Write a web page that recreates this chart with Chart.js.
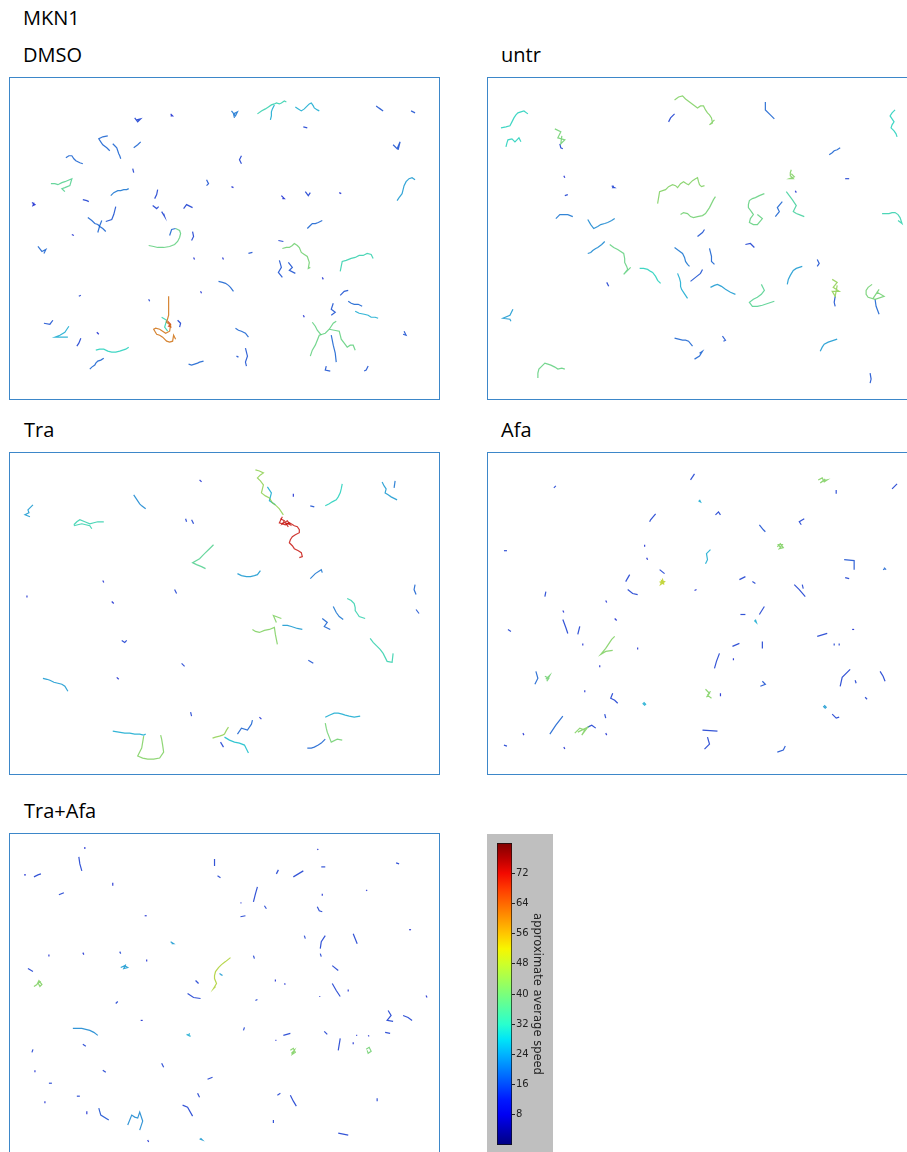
<!DOCTYPE html>
<html>
<head>
<meta charset="utf-8">
<script src="https://cdn.jsdelivr.net/npm/chart.js@4.4.0/dist/chart.umd.min.js"></script>
<style>
  html, body { margin: 0; padding: 0; background: #fff; }
  body { width: 907px; height: 1152px; overflow: hidden; position: relative; font-family: "Open Sans", sans-serif; }
  .label { position: absolute; font-size: 20px; line-height: 20px; color: #000; white-space: nowrap; }
  .panel { position: absolute; width: 429px; height: 321px; border: 1px solid #3d87c9; background: #fff; }
  .panel canvas, #cbar canvas { display: block; }
  #cbar { position: absolute; left: 487px; top: 834px; width: 66px; height: 318px; background: #bfbfbf; }
</style>
</head>
<body>
<div class="label" style="left:23px;top:8px">MKN1</div>
<div class="label" style="left:23px;top:45px">DMSO</div>
<div class="label" style="left:501px;top:45px">untr</div>
<div class="label" style="left:24px;top:420px">Tra</div>
<div class="label" style="left:501px;top:420px">Afa</div>
<div class="label" style="left:24px;top:801px">Tra+Afa</div>

<div class="panel" style="left:9px;top:77px"><canvas id="dmso" width="429" height="321"></canvas></div>
<div class="panel" style="left:487px;top:77px"><canvas id="untr" width="429" height="321"></canvas></div>
<div class="panel" style="left:9px;top:452px"><canvas id="tra" width="429" height="321"></canvas></div>
<div class="panel" style="left:487px;top:452px"><canvas id="afa" width="429" height="321"></canvas></div>
<div class="panel" style="left:9px;top:833px"><canvas id="traafa" width="429" height="321"></canvas></div>
<div id="cbar"><canvas id="cbarChart" width="66" height="318"></canvas></div>

<script>
// each track: [average speed, [[x, y], ...]] in field pixels (y grows downward)
const dmsoTracks = [
  [14, [[125,40],[128,44],[131,41],[127,42]]],
  [12, [[161,36],[163,38],[161,38]]],
  [20, [[222,33],[226,38],[228,34],[224,36],[225,40]]],
  [32, [[248,36],[252,33],[256,31],[259,29],[262,27],[265,26],[267,25],[270,26],[272,25],[275,23],[277,24]]],
  [26, [[265,27],[263,31],[262,34],[262,38],[261,42]]],
  [26, [[286,29],[289,31],[292,33],[295,31],[298,28],[300,26],[302,25],[304,28],[305,30],[308,32],[310,33]]],
  [16, [[367,28],[371,31],[374,33],[370,30]]],
  [16, [[402,33],[406,35]]],
  [14, [[294,49],[298,50]]],
  [16, [[384,67],[388,71],[391,64],[389,72]]],
  [18, [[98,58],[93,59],[89,61],[91,64],[93,67],[97,70],[100,73]]],
  [18, [[103,66],[105,68],[107,70],[108,73],[109,76],[110,78],[111,81]]],
  [18, [[124,70],[128,67],[131,64]]],
  [18, [[56,80],[59,78],[62,78],[64,81],[66,83],[70,85],[73,86]]],
  [14, [[123,91],[124,95]]],
  [14, [[232,78],[230,82],[232,86]]],
  [24, [[406,102],[403,100],[400,101],[397,104],[395,108],[394,112],[393,116],[390,120],[388,123]]],
  [36, [[41,106],[45,106],[48,107],[52,105],[55,104],[62,101],[60,108],[55,110],[52,111],[55,114]]],
  [16, [[197,102],[199,106],[197,108]]],
  [12, [[222,109],[224,110]]],
  [20, [[101,118],[104,115],[108,113],[111,113],[114,112],[117,112],[119,111]]],
  [14, [[148,112],[147,117],[145,121]]],
  [12, [[22,125],[25,127],[23,128],[24,125]]],
  [14, [[73,122],[77,123],[79,124]]],
  [12, [[272,118],[275,121],[273,121]]],
  [14, [[296,114],[299,118],[301,115]]],
  [12, [[330,115],[332,116]]],
  [14, [[143,128],[147,131],[149,129]]],
  [14, [[152,134],[155,139],[154,136]]],
  [14, [[174,131],[177,127],[183,130]]],
  [16, [[106,129],[104,137],[102,142],[96,144]]],
  [18, [[78,140],[82,143],[85,146],[88,147],[90,149],[93,151],[96,154]]],
  [18, [[88,155],[90,148],[92,143]]],
  [12, [[62,157],[64,158]]],
  [18, [[28,169],[32,174],[36,172],[34,176]]],
  [38, [[139,168],[144,169],[148,170],[154,170],[160,169],[165,167],[168,164],[170,160],[171,156],[170,153],[166,151]]],
  [18, [[160,158],[162,152],[166,151]]],
  [14, [[183,154],[184,159],[182,163]]],
  [12, [[184,180],[185,182]]],
  [12, [[213,180],[214,182]]],
  [16, [[239,176],[243,175]]],
  [14, [[269,163],[274,164]]],
  [40, [[273,171],[277,170],[280,170],[283,168],[285,166],[288,168],[290,170],[292,175],[295,177],[298,179],[300,185],[299,191],[301,190]]],
  [16, [[270,183],[272,190],[269,195],[273,200]]],
  [16, [[279,185],[283,190],[280,193],[286,196]]],
  [18, [[298,151],[301,148],[303,146],[306,146],[309,145],[313,143]]],
  [32, [[331,194],[332,189],[333,184],[337,183],[342,181],[346,180],[350,178],[354,178],[358,176],[362,177],[364,181]]],
  [12, [[313,200],[314,202]]],
  [18, [[209,204],[213,205],[216,206],[219,208],[221,210],[224,214]]],
  [12, [[191,214],[192,216]]],
  [14, [[69,219],[71,218]]],
  [14, [[139,222],[140,224]]],
  [16, [[331,218],[335,214],[339,213]]],
  [16, [[324,226],[322,232],[326,235],[322,238]]],
  [18, [[339,224],[342,226],[345,227],[349,227],[353,229]]],
  [26, [[346,234],[350,236],[355,237],[359,238],[362,240],[366,240],[369,241]]],
  [12, [[294,238],[295,240]]],
  [16, [[34,246],[40,247],[43,243]]],
  [26, [[59,249],[57,252],[55,255],[50,258],[45,260],[50,260],[58,260]]],
  [12, [[87,255],[89,257],[88,256]]],
  [14, [[71,261],[69,266],[67,269]]],
  [62, [[159,219],[159,228],[159,238],[157,245],[161,248],[160,254],[156,256],[153,254],[150,252],[146,251],[144,252],[147,257],[150,258],[153,260],[157,264],[160,265],[163,264],[164,258],[166,262]]],
  [32, [[152,240],[157,243],[155,250],[158,254]]],
  [68, [[158,244],[161,247],[159,249],[162,250]]],
  [14, [[168,243],[171,246],[170,250]]],
  [18, [[226,251],[229,253],[232,254],[236,256],[239,260]]],
  [30, [[86,273],[90,272],[94,272],[98,274],[102,275],[106,275],[110,274],[113,273],[116,272],[119,270]]],
  [18, [[94,281],[91,283],[88,284],[86,286],[85,288],[82,290],[80,292]]],
  [18, [[179,287],[182,288],[185,287],[188,286],[190,285],[194,284]]],
  [16, [[236,271],[238,279],[236,285],[237,289]]],
  [16, [[227,279],[229,280]]],
  [38, [[301,279],[303,273],[306,268],[308,263],[310,258],[313,257],[316,256],[320,252],[322,249],[324,246],[327,244]]],
  [38, [[303,245],[306,249],[308,253],[312,258]]],
  [38, [[320,252],[325,253],[330,254],[331,258],[332,262],[335,266],[338,270],[341,268],[344,268],[346,273]]],
  [18, [[322,258],[323,263],[324,268],[325,272],[326,276],[327,285]]],
  [16, [[317,289],[316,293],[321,294]]],
  [16, [[359,289],[357,293],[355,294]]],
  [16, [[395,254],[397,258],[394,257]]]
];

const untrTracks = [
  [30, [[13,50],[18,49],[22,48],[24,44],[26,40],[28,37],[30,35],[33,34],[36,33],[40,36]]],
  [30, [[18,69],[19,65],[20,62],[24,61],[27,64],[29,62],[31,60],[33,64]]],
  [40, [[67,51],[73,54],[70,60],[77,62],[73,66],[74,58]]],
  [14, [[72,66],[73,70],[75,71]]],
  [14, [[187,36],[183,40],[181,44]]],
  [42, [[187,22],[191,19],[195,18],[198,21],[202,24],[206,27],[210,30],[213,28],[216,28],[218,32],[220,35],[222,37],[224,40],[225,45],[222,47],[227,42]]],
  [18, [[278,24],[278,32],[283,37],[287,41]]],
  [30, [[408,32],[405,35],[403,38],[405,41],[407,44],[405,47],[404,50],[407,53],[409,56],[410,59]]],
  [18, [[342,77],[345,75],[347,73],[350,72],[353,70]]],
  [12, [[76,98],[77,100]]],
  [14, [[124,108],[127,110],[125,110],[126,108]]],
  [14, [[77,118],[80,117]]],
  [42, [[170,126],[171,120],[172,114],[175,113],[178,112],[181,109],[185,107],[188,108],[190,110],[193,106],[196,104],[199,106],[201,107],[203,105],[205,103],[208,101],[210,100],[211,104],[212,107],[214,109],[217,108]]],
  [42, [[304,92],[303,95],[303,98],[306,101],[302,101],[307,99],[304,96]]],
  [14, [[358,101],[362,101]]],
  [12, [[308,113],[309,115]]],
  [40, [[193,137],[196,135],[200,136],[203,139],[206,140],[210,139],[215,138],[218,136],[220,133],[222,130],[224,126],[226,122],[228,119]]],
  [38, [[277,116],[272,118],[268,120],[265,121],[262,123],[261,127],[261,130],[264,134],[266,137],[263,141],[262,145],[266,147],[270,147],[275,141],[270,137]]],
  [18, [[295,124],[290,130],[292,134],[288,139]]],
  [34, [[299,114],[302,118],[305,122],[307,125],[309,128],[306,134],[309,136],[312,137],[317,139]]],
  [32, [[395,136],[399,136],[402,136],[405,135],[408,135],[411,137],[413,140],[415,146],[411,143]]],
  [20, [[68,141],[70,139],[72,137],[76,137],[80,137],[85,139]]],
  [22, [[100,142],[103,147],[106,151],[110,149],[113,147],[117,146],[120,145],[124,143],[127,141]]],
  [16, [[210,159],[215,155],[217,152]]],
  [14, [[258,167],[263,166],[267,170]]],
  [22, [[100,176],[103,175],[105,173],[108,171],[110,170],[114,167],[117,164]]],
  [38, [[122,167],[126,170],[130,172],[133,174],[136,176],[137,181],[137,185],[139,189],[140,192],[136,197],[143,190]]],
  [20, [[187,170],[191,173],[195,176],[197,180],[198,184],[200,187],[202,189]]],
  [18, [[222,171],[224,179],[224,184],[227,187]]],
  [30, [[152,191],[156,191],[160,192],[163,194],[165,195],[168,199],[170,203],[173,206]]],
  [16, [[203,204],[208,200],[213,196],[215,192]]],
  [26, [[190,196],[192,201],[193,205],[193,209],[194,212],[196,215],[198,218],[200,221]]],
  [14, [[119,205],[121,209]]],
  [24, [[223,210],[227,208],[230,207],[234,209],[238,212],[243,215],[248,217]]],
  [36, [[274,207],[277,213],[274,217],[270,220],[266,222],[262,225],[265,229],[270,229],[275,228],[281,226],[287,224]]],
  [24, [[300,207],[301,202],[303,198],[306,193],[309,191],[312,190],[315,189]]],
  [16, [[330,182],[332,186],[330,189]]],
  [44, [[345,202],[350,205],[346,210],[352,214],[345,214],[348,219],[350,208]]],
  [16, [[348,219],[347,225],[348,229]]],
  [40, [[385,207],[381,210],[379,213],[379,217],[381,220],[388,222],[397,219],[390,215],[386,221],[392,212]]],
  [18, [[388,222],[389,229],[392,237]]],
  [24, [[25,232],[22,238],[15,241],[22,242],[23,244]]],
  [18, [[187,261],[191,262],[195,263],[198,263],[201,264],[205,269]]],
  [18, [[207,282],[212,279],[215,274],[212,276]]],
  [16, [[235,259],[238,263],[236,264]]],
  [24, [[333,274],[335,270],[337,267],[341,265],[344,264],[350,262]]],
  [38, [[50,301],[50,296],[51,292],[54,289],[57,286],[60,287],[63,288],[67,290],[70,292],[74,291],[77,292]]],
  [16, [[383,296],[384,302],[383,306]]]
];

const traTracks = [
  [24, [[23,52],[18,57],[19,60],[15,62],[20,64]]],
  [32, [[64,72],[67,69],[70,67],[75,69],[80,71],[84,70],[88,69],[94,69]]],
  [32, [[64,73],[68,72],[72,71],[76,72],[80,73],[82,76]]],
  [22, [[124,42],[126,45],[128,48],[130,51],[132,53],[136,56]]],
  [12, [[190,27],[192,29]]],
  [14, [[176,66],[177,69]]],
  [14, [[182,67],[184,71]]],
  [44, [[246,17],[250,18],[254,20],[251,22],[248,25],[251,28],[254,32],[253,36],[252,40],[256,43],[260,45],[263,50],[267,53],[270,56],[274,62]]],
  [26, [[258,34],[262,40],[260,48],[266,52]]],
  [72, [[273,64],[270,70],[276,72],[280,70],[285,73],[288,74],[290,77],[290,80],[286,82],[283,84],[281,87],[280,90],[283,93],[285,96],[289,98],[292,100],[293,104],[290,105]]],
  [72, [[271,66],[275,68],[273,71],[278,68],[281,72],[276,70],[279,74]]],
  [12, [[284,41],[284,44]]],
  [16, [[301,53],[305,54]]],
  [30, [[333,31],[332,36],[331,40],[329,44],[327,47],[323,49],[320,51],[316,53]]],
  [24, [[373,29],[375,33],[377,36],[376,40],[379,42],[382,44],[388,47]]],
  [20, [[386,28],[385,35]]],
  [36, [[204,92],[200,96],[196,100],[193,103],[190,106],[183,110],[187,112],[192,114],[196,116]]],
  [24, [[228,121],[232,123],[237,124],[241,124],[245,123],[248,122],[251,118]]],
  [20, [[301,126],[306,121],[312,117],[313,120]]],
  [18, [[406,132],[405,137],[407,142]]],
  [16, [[407,157],[410,161]]],
  [12, [[93,128],[94,130]]],
  [12, [[17,143],[17,145]]],
  [12, [[102,149],[104,151]]],
  [14, [[165,137],[167,141]]],
  [42, [[243,177],[246,179],[250,180],[255,178],[260,177],[265,175],[266,182],[268,192]]],
  [42, [[267,170],[264,163],[272,166]]],
  [24, [[273,173],[278,173],[282,174],[285,175],[288,176],[293,177]]],
  [18, [[313,166],[318,170],[315,174],[321,177]]],
  [20, [[324,154],[327,160],[330,164],[334,167]]],
  [32, [[338,146],[342,148],[345,151],[346,155],[346,158],[348,161],[350,164],[356,166]]],
  [32, [[361,186],[364,190],[368,194],[371,197],[374,201],[376,205],[378,209],[383,210],[384,201]]],
  [14, [[112,188],[115,190],[117,188]]],
  [14, [[172,211],[175,214]]],
  [16, [[299,208],[304,211]]],
  [24, [[33,226],[37,227],[40,228],[44,230],[48,231],[52,232],[55,234],[58,239]]],
  [12, [[107,225],[109,227]]],
  [14, [[181,260],[182,264]]],
  [26, [[103,279],[109,280],[115,281],[120,281],[125,282],[130,282],[134,283],[136,282]]],
  [42, [[134,284],[133,290],[132,296],[130,300],[128,304],[133,306],[138,307],[144,307],[150,306],[154,300],[153,293],[152,287],[151,283]]],
  [44, [[203,286],[206,285],[210,284],[213,283],[215,282],[217,278],[219,275]]],
  [28, [[215,285],[220,288],[225,290],[230,291],[235,293],[237,297],[239,301]]],
  [14, [[211,290],[214,295]]],
  [18, [[228,282],[232,276],[238,278],[242,272],[243,268]]],
  [12, [[250,265],[252,267]]],
  [26, [[316,265],[320,263],[325,261],[329,261],[333,262],[336,263],[340,264],[345,265],[351,264]]],
  [40, [[316,271],[317,276],[318,280],[320,285],[322,290],[328,287],[333,288]]],
  [18, [[298,296],[302,296],[305,295],[309,293],[312,291],[316,287]]]
];

const afaTracks = [
  [14, [[207,21],[203,27]]],
  [14, [[66,35],[68,33]]],
  [42, [[331,27],[335,25],[337,29],[340,27],[336,28],[333,30],[338,26]]],
  [14, [[349,37],[349,41]]],
  [14, [[410,31],[405,36]]],
  [26, [[211,48],[213,49],[212,47]]],
  [14, [[228,62],[231,59],[233,62]]],
  [14, [[168,61],[163,67],[162,69]]],
  [16, [[272,72],[276,77],[278,79]]],
  [14, [[317,66],[312,69],[314,72]]],
  [42, [[290,94],[293,91],[296,95],[292,96],[295,92],[291,92],[294,96]]],
  [14, [[16,98],[19,98]]],
  [12, [[157,92],[157,94]]],
  [12, [[159,105],[160,107]]],
  [26, [[223,97],[219,101],[220,107],[218,111]]],
  [16, [[357,107],[367,108],[367,117]]],
  [14, [[358,125],[362,126]]],
  [18, [[397,115],[399,117],[398,116],[396,117]]],
  [14, [[142,122],[138,129]]],
  [50, [[172,129],[176,131],[175,127],[173,132],[177,129],[174,128],[176,132]]],
  [14, [[172,117],[177,121]]],
  [14, [[140,137],[145,141],[150,142]]],
  [12, [[207,138],[209,137]]],
  [14, [[252,127],[258,124]]],
  [14, [[265,129],[268,131]]],
  [14, [[307,132],[312,137],[318,144]]],
  [14, [[315,132],[316,136]]],
  [14, [[58,139],[57,144]]],
  [12, [[118,148],[119,150]]],
  [12, [[75,158],[76,160]]],
  [14, [[75,167],[78,175],[80,181]]],
  [14, [[92,174],[90,182]]],
  [12, [[127,166],[129,168]]],
  [14, [[253,162],[258,162]]],
  [14, [[277,154],[272,162]]],
  [26, [[267,168],[269,170],[268,167]]],
  [14, [[20,177],[23,179]]],
  [12, [[95,191],[95,193]]],
  [42, [[127,184],[124,187],[122,190],[120,193],[118,196],[113,202],[118,199],[125,198]]],
  [12, [[150,195],[150,197]]],
  [14, [[245,194],[252,191]]],
  [14, [[275,189],[275,196]]],
  [14, [[330,184],[340,181]]],
  [12, [[365,177],[367,177]]],
  [14, [[347,191],[347,193]]],
  [14, [[352,191],[352,193]]],
  [14, [[232,201],[229,209],[227,216]]],
  [12, [[246,206],[246,208]]],
  [12, [[112,213],[112,215]]],
  [18, [[48,219],[50,226],[47,232]]],
  [40, [[57,224],[61,226],[59,229],[62,223],[58,227],[60,225]]],
  [12, [[97,238],[97,240]]],
  [14, [[125,241],[123,246],[127,248],[130,251]]],
  [26, [[156,250],[158,252],[157,253],[155,251]]],
  [42, [[218,237],[222,241],[219,245],[223,239],[220,243],[224,246]]],
  [12, [[233,241],[233,244]]],
  [16, [[275,229],[278,232],[273,234]]],
  [14, [[363,217],[355,225],[353,234]]],
  [14, [[368,228],[369,231]]],
  [14, [[393,219],[396,224],[398,229]]],
  [14, [[378,245],[380,247]]],
  [24, [[337,253],[339,255],[338,256],[336,254]]],
  [14, [[345,262],[349,266],[352,265]]],
  [18, [[75,264],[68,273],[62,282]]],
  [42, [[87,281],[92,276],[97,278],[94,283],[100,275],[90,280]]],
  [14, [[100,275],[104,273],[108,276]]],
  [14, [[117,262],[118,266]]],
  [12, [[118,281],[119,283]]],
  [12, [[35,281],[36,283]]],
  [14, [[16,293],[19,294]]],
  [12, [[76,295],[77,297]]],
  [14, [[215,278],[230,279]]],
  [14, [[220,285],[222,292],[217,297]]],
  [16, [[290,300],[296,298],[298,294]]]
];

const traAfaTracks = [
  [12, [[75,13],[75,15]]],
  [14, [[69,23],[70,30],[72,37]]],
  [12, [[14,41],[16,41]]],
  [14, [[24,43],[28,41],[31,40]]],
  [12, [[103,49],[103,52]]],
  [14, [[49,61],[54,59]]],
  [12, [[135,82],[137,82]]],
  [14, [[205,25],[205,32]]],
  [14, [[208,42],[211,44]]],
  [14, [[269,36],[267,40]]],
  [14, [[284,43],[294,37]]],
  [12, [[308,16],[309,15]]],
  [14, [[312,33],[316,33]]],
  [14, [[387,29],[390,30]]],
  [14, [[248,53],[246,60],[244,68]]],
  [12, [[231,69],[232,69]]],
  [14, [[231,83],[236,82]]],
  [14, [[255,72],[257,75]]],
  [12, [[313,60],[313,62]]],
  [14, [[308,73],[310,77],[313,78]]],
  [12, [[357,57],[358,56]]],
  [12, [[400,96],[402,96]]],
  [14, [[295,102],[296,105]]],
  [14, [[316,102],[312,108],[311,115]]],
  [14, [[311,120],[312,123]]],
  [14, [[344,100],[346,105],[348,110]]],
  [24, [[161,108],[164,110],[162,110]]],
  [12, [[39,121],[39,123]]],
  [12, [[73,119],[74,121]]],
  [14, [[110,118],[111,120]]],
  [24, [[111,134],[115,132],[118,134],[114,135],[116,131]]],
  [12, [[137,126],[137,128]]],
  [42, [[24,153],[27,151],[29,147],[32,151],[30,153],[28,149],[31,148]]],
  [14, [[18,135],[23,138]]],
  [48, [[221,124],[216,128],[212,131],[209,134],[206,138],[205,142],[205,145],[207,150],[204,155],[206,153]]],
  [24, [[210,140],[213,142],[211,141]]],
  [14, [[186,147],[189,150]]],
  [14, [[178,160],[184,164],[191,165]]],
  [14, [[244,122],[245,125]]],
  [14, [[323,132],[329,137]]],
  [12, [[266,146],[266,148]]],
  [12, [[275,150],[276,151]]],
  [14, [[323,150],[327,157],[331,163]]],
  [12, [[339,156],[339,158]]],
  [12, [[310,163],[311,163]]],
  [12, [[417,162],[418,164]]],
  [14, [[246,167],[248,166]]],
  [14, [[106,170],[108,168]]],
  [12, [[131,187],[133,187]]],
  [22, [[63,195],[68,195],[72,195],[76,196],[80,197],[84,199],[88,202]]],
  [26, [[177,201],[181,203],[179,202],[180,200]]],
  [14, [[235,194],[234,197]]],
  [14, [[274,202],[281,200]]],
  [12, [[266,207],[267,207]]],
  [14, [[315,198],[318,201]]],
  [14, [[379,177],[382,182],[378,187],[384,188]]],
  [14, [[394,182],[399,184],[403,187]]],
  [14, [[376,199],[381,200]]],
  [14, [[331,205],[330,211],[329,217]]],
  [12, [[344,209],[344,211]]],
  [12, [[347,202],[348,202]]],
  [12, [[359,202],[360,203]]],
  [42, [[281,217],[284,215],[286,219],[283,221],[285,217],[282,220]]],
  [40, [[357,216],[360,214],[362,218],[359,220],[358,217]]],
  [14, [[23,216],[22,219]]],
  [14, [[73,211],[76,213]]],
  [12, [[25,237],[25,239]]],
  [14, [[93,237],[96,239]]],
  [14, [[152,230],[154,234]]],
  [14, [[39,250],[42,250]]],
  [14, [[67,263],[70,263]]],
  [12, [[35,268],[35,270]]],
  [14, [[198,246],[203,244]]],
  [14, [[188,260],[190,264]]],
  [14, [[268,262],[271,260]]],
  [14, [[281,262],[284,268],[287,273]]],
  [14, [[368,265],[368,268]]],
  [12, [[77,278],[77,281]]],
  [16, [[89,275],[91,282],[99,287]]],
  [22, [[118,292],[122,282],[125,284],[128,285],[130,279],[133,288],[130,297]]],
  [14, [[173,272],[178,274],[183,283]]],
  [14, [[264,287],[264,290]]],
  [24, [[190,306],[193,307],[191,305]]],
  [12, [[138,307],[139,309]]],
  [14, [[329,300],[339,302]]]
];

const colorbarTicks = [8, 16, 24, 32, 40, 48, 56, 64, 72];
const speedMin = 0;
const speedMax = 80;
const colorbarTitle = "approximate average speed";

// matplotlib "jet"
const jetRed = [[0, 0], [0.35, 0], [0.66, 1], [0.89, 1], [1, 0.5]];
const jetGreen = [[0, 0], [0.125, 0], [0.375, 1], [0.64, 1], [0.91, 0], [1, 0]];
const jetBlue = [[0, 0.5], [0.11, 1], [0.34, 1], [0.65, 0], [1, 0]];

function channel(seg, t) {
  for (let i = 1; i < seg.length; i++) {
    if (t <= seg[i][0]) {
      const [x0, y0] = seg[i - 1];
      const [x1, y1] = seg[i];
      return y0 + (y1 - y0) * (t - x0) / (x1 - x0);
    }
  }
  return seg[seg.length - 1][1];
}

function jet(t, k = 1, a = 1) {
  t = Math.min(1, Math.max(0, t));
  const r = Math.round(channel(jetRed, t) * 255 * k);
  const g = Math.round(channel(jetGreen, t) * 255 * k);
  const b = Math.round(channel(jetBlue, t) * 255 * k);
  return `rgba(${r}, ${g}, ${b}, ${a})`;
}

function trackColor(speed) {
  return jet((speed - speedMin) / (speedMax - speedMin), 0.8, 0.8);
}

function drawPanel(id, tracks) {
  const ctx = document.getElementById(id).getContext("2d");
  new Chart(ctx, {
    type: "scatter",
    data: {
      datasets: tracks.map(([speed, pts]) => ({
        data: pts.map(([x, y]) => ({ x, y })),
        showLine: true,
        borderColor: trackColor(speed),
        borderWidth: 1.2,
        pointRadius: 0,
        tension: 0,
        fill: false,
      })),
    },
    options: {
      responsive: false,
      animation: false,
      layout: { padding: 0 },
      plugins: { legend: { display: false }, tooltip: { enabled: false } },
      scales: {
        x: { type: "linear", display: false, min: 0, max: 430 },
        y: { type: "linear", display: false, min: 0, max: 322, reverse: true },
      },
    },
  });
}

function drawColorbar() {
  const ctx = document.getElementById("cbarChart").getContext("2d");
  new Chart(ctx, {
    type: "bar",
    data: {
      labels: [""],
      datasets: [{
        data: [[speedMin, speedMax]],
        backgroundColor: (c) => {
          const area = c.chart.chartArea;
          if (!area) return "#000080";
          const g = c.chart.ctx.createLinearGradient(0, area.bottom, 0, area.top);
          for (let i = 0; i <= 20; i++) g.addColorStop(i / 20, jet(i / 20));
          return g;
        },
        borderColor: "#111",
        borderWidth: 1,
        borderSkipped: false,
        barPercentage: 1,
        categoryPercentage: 1,
      }],
    },
    options: {
      responsive: false,
      animation: false,
      layout: { padding: { left: 10, top: 9, bottom: 4, right: 0 } },
      plugins: { legend: { display: false }, tooltip: { enabled: false } },
      scales: {
        x: { display: false },
        y: {
          position: "right",
          min: speedMin,
          max: speedMax,
          afterBuildTicks: (s) => { s.ticks = colorbarTicks.map((v) => ({ value: v })); },
          afterFit: (s) => { s.width = 41; },
          border: { display: false },
          grid: { drawOnChartArea: false, drawTicks: true, tickLength: 3, color: "#222" },
          ticks: { padding: 1, color: "#222", font: { family: "DejaVu Sans", size: 10 } },
          title: {
            display: true,
            text: colorbarTitle,
            color: "#222",
            font: { family: "DejaVu Sans", size: 11.5 },
            padding: { top: 9, bottom: 9 },
          },
        },
      },
    },
  });
}

drawPanel("dmso", dmsoTracks);
drawPanel("untr", untrTracks);
drawPanel("tra", traTracks);
drawPanel("afa", afaTracks);
drawPanel("traafa", traAfaTracks);
drawColorbar();
</script>
</body>
</html>
